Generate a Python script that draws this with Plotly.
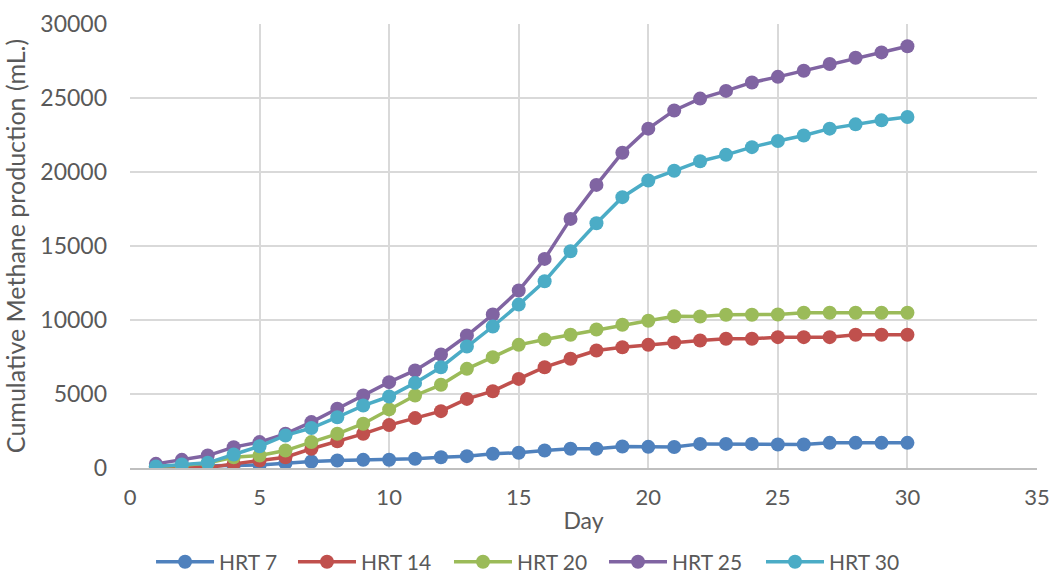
import plotly.graph_objects as go

# Cumulative methane production (mL) per day for each hydraulic retention time
days = list(range(1, 31))

hrt7 = [120, 120, 150, 170, 200, 330, 440, 510, 550, 560,
        620, 730, 800, 960, 1030, 1180, 1300, 1300, 1450, 1430,
        1420, 1630, 1630, 1630, 1590, 1590, 1700, 1700, 1700, 1700]

hrt14 = [50, 20, 20, 280, 510, 730, 1300, 1800, 2310, 2900,
         3370, 3840, 4670, 5190, 6020, 6810, 7380, 7940, 8160, 8320,
         8480, 8610, 8730, 8730, 8840, 8840, 8840, 9000, 9000, 9000]

hrt20 = [120, 170, 330, 730, 840, 1180, 1750, 2310, 2990, 3960,
         4900, 5620, 6700, 7490, 8320, 8680, 9000, 9360, 9680, 9950,
         10250, 10240, 10350, 10350, 10370, 10490, 10490, 10490, 10490, 10490]

hrt25 = [280, 550, 840, 1410, 1750, 2310, 3100, 4000, 4900, 5800,
         6590, 7670, 8950, 10370, 11990, 14130, 16830, 19130, 21300, 22930,
         24160, 24960, 25480, 26050, 26430, 26840, 27300, 27720, 28080, 28500]

hrt30 = [100, 240, 350, 910, 1470, 2200, 2700, 3430, 4220, 4830,
         5750, 6810, 8210, 9560, 11040, 12620, 14650, 16540, 18300, 19430,
         20080, 20730, 21160, 21680, 22090, 22470, 22930, 23220, 23490, 23720]

series = [
    ("HRT 7", hrt7, "#4F81BD"),
    ("HRT 14", hrt14, "#C0504D"),
    ("HRT 20", hrt20, "#9BBB59"),
    ("HRT 25", hrt25, "#8064A2"),
    ("HRT 30", hrt30, "#4BACC6"),
]

# left edge of each legend entry, as a fraction of the plot width
legend_x = [0.0232, 0.1797, 0.3517, 0.5226, 0.6957]

font_family = "Lato, 'Liberation Sans', sans-serif"
grid = "#d9d9d9"
text_color = "#595959"

fig = go.Figure()
legends = {}
for i, (name, vals, color) in enumerate(series):
    key = "legend" if i == 0 else f"legend{i + 1}"
    fig.add_trace(go.Scatter(
        x=days, y=vals, name=name, mode="lines+markers",
        line=dict(color=color, width=3.5),
        marker=dict(color=color, size=14),
        legend=key,
    ))
    legends[key] = dict(
        orientation="h", x=legend_x[i], xanchor="left",
        y=-0.212, yanchor="middle", itemwidth=58,
        bgcolor="rgba(0,0,0,0)",
        font=dict(size=21, color=text_color),
    )

fig.update_layout(
    width=1050, height=576,
    margin=dict(l=130, r=13, t=24, b=108, autoexpand=False),
    paper_bgcolor="white", plot_bgcolor="white",
    font=dict(family=font_family, size=21, color=text_color),
    showlegend=True,
    xaxis=dict(
        range=[0, 35], dtick=5, tick0=0,
        showgrid=True, gridcolor=grid, gridwidth=1.5,
        zeroline=False, showline=True, linecolor="#bfbfbf", linewidth=1.5,
        ticks="", ticklabelstandoff=9, automargin=False,
        ticklabeloverflow="allow", tickfont=dict(size=22),
        title=dict(text="Day", standoff=4, font=dict(size=23, color=text_color)),
    ),
    yaxis=dict(
        range=[0, 30000], dtick=5000, tick0=0,
        showgrid=True, gridcolor=grid, gridwidth=1.5,
        zeroline=False, showline=False,
        ticks="", ticklabelstandoff=22, tickformat="d", automargin=False,
        tickfont=dict(size=23),
        title=dict(text="Cumulative Methane production (mL.)", standoff=7,
                   font=dict(size=25, color=text_color)),
    ),
    **legends,
)

fig.write_html("out.html")
